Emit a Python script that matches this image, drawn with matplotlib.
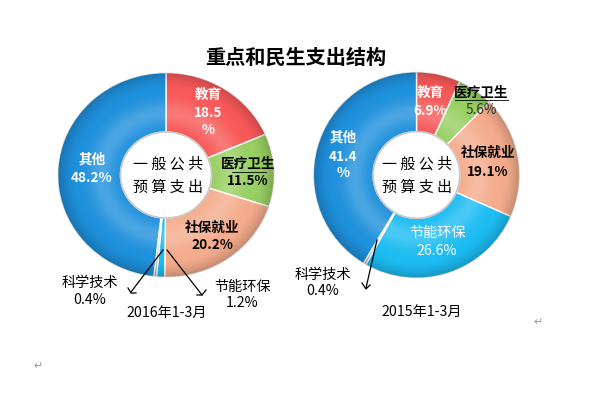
import numpy as np
import matplotlib
matplotlib.use("Agg")
import matplotlib.pyplot as plt
from matplotlib.patches import Wedge, Circle

plt.rcParams['font.family'] = ['Noto Sans CJK SC', 'DejaVu Sans']

# ---- data ----
categories = ["教育", "医疗卫生", "社保就业", "节能环保", "科学技术", "其他"]
values_2016 = [18.5, 11.5, 20.2, 1.2, 0.4, 48.2]
values_2015 = [6.9, 5.6, 19.1, 26.6, 0.4, 41.4]
period_2016 = "2016年1-3月"
period_2015 = "2015年1-3月"
title = "重点和民生支出结构"
center_lines = ["一 般 公 共", "预 算 支 出"]

colors = ["#F85858", "#98CF62", "#F5AC8C", "#1CBCF2", "#A8A8A8", "#1E90DC"]

W, H = 600, 399
fig = plt.figure(figsize=(W / 100, H / 100), dpi=100)
fig.patch.set_facecolor("white")


def fx(x):
    return x / W


def fy(y):
    return 1 - y / H


def make_axes(cx, cy, size=260):
    return fig.add_axes([fx(cx - size / 2), fy(cy + size / 2), size / W, size / H])


def donut(ax, values, xl, yl):
    ax.set_xlim(-xl, xl)
    ax.set_ylim(-yl, yl)
    ax.set_aspect("auto")
    ax.axis("off")
    wedges, _ = ax.pie(values, colors=colors, startangle=90, counterclock=False,
                       radius=1.0, wedgeprops=dict(width=0.58, edgecolor="white", linewidth=1.0))
    # bevel shading overlay
    n = 400
    xs = np.linspace(-1, 1, n)
    X, Y = np.meshgrid(xs, xs)
    R = np.sqrt(X ** 2 + Y ** 2)
    img = np.zeros((n, n, 4))
    dark = 0.2 * np.clip((R - 0.84) / 0.16, 0, 1) ** 1.5
    light = 0.2 * np.exp(-((R - 0.6) / 0.12) ** 2)
    alpha = dark + light
    rgb = np.where(dark[..., None] > light[..., None], 0.0, 1.0)
    img[..., :3] = rgb
    img[..., 3] = np.clip(alpha, 0, 1)
    ring = Wedge((0, 0), 1.0, 0, 360, width=0.58, transform=ax.transData)
    im = ax.imshow(img, extent=(-1, 1, -1, 1), origin="lower", zorder=3, interpolation="bilinear")
    im.set_clip_path(ring)
    ax.set_xlim(-xl, xl)
    ax.set_ylim(-yl, yl)
    ax.set_aspect("auto")
    # inner hole rim shadow
    ax.add_patch(Circle((0, 0), 0.42, facecolor="none", edgecolor="#C8C8C8", linewidth=1.2, zorder=4))
    return wedges


axL = make_axes(166, 175)
donut(axL, values_2016, 1.2, 1.27)
axR = make_axes(416.5, 175)
donut(axR, values_2015, 1.26, 1.26)


def t(x, y, s, color="black", weight="normal", size=9.8, **kw):
    fig.text(fx(x), fy(y), s, color=color, fontweight=weight, fontsize=size,
             ha="center", va="center", **kw)


# title
t(296, 57, title, weight="bold", size=14.5)

# center text
for cx in (168, 417):
    t(cx, 164, center_lines[0], size=10.8)
    t(cx, 188, center_lines[1], size=10.8)

# ---- left chart labels ----
t(208, 95, categories[0], color="white", weight="bold")
t(208, 113, f"{values_2016[0]}", color="white", weight="bold")
t(208, 130, "%", color="white", weight="bold")
t(248, 164, categories[1], weight="bold")
t(248, 181, f"{values_2016[1]}%", weight="bold")
t(212, 228, categories[2], weight="bold")
t(212, 245, f"{values_2016[2]}%", weight="bold")
t(92, 160, categories[5], color="white", weight="bold")
t(92, 178, f"{values_2016[5]}%", color="white", weight="bold")
t(90, 283, categories[4], size=10.2)
t(90, 300, f"{values_2016[4]}%", size=10.2)
t(242, 287, categories[3], size=10.2)
t(242, 303, f"{values_2016[3]}%", size=10.2)
t(167, 313, period_2016, size=10.2)

fig.add_artist(plt.Line2D([fx(163), fx(131)], [fy(250), fy(292)], color="black", lw=0.9))
fig.add_artist(plt.Line2D([fx(167), fx(202)], [fy(250), fy(295)], color="black", lw=0.9))
fig.add_artist(plt.Line2D([fx(128), fx(131), fx(136)], [fy(288), fy(293), fy(293)], color="black", lw=0.9))
fig.add_artist(plt.Line2D([fx(197), fx(202), fx(206)], [fy(295), fy(295), fy(290)], color="black", lw=0.9))
fig.add_artist(plt.Line2D([fx(232), fx(266)], [fy(172), fy(172)], color="black", lw=0.6))

# ---- right chart labels ----
t(430, 93, categories[0], color="white", weight="bold")
t(430, 111, f"{values_2015[0]}%", color="white", weight="bold")
t(481, 93, categories[1], weight="bold")
t(481, 110, f"{values_2015[1]}%", color="#333333")
t(488, 153, categories[2], weight="bold")
t(488, 172, f"{values_2015[2]}%", weight="bold")
t(437, 233, categories[3], color="white", size=10.2)
t(437, 251, f"{values_2015[3]}%", color="white", size=10.2)
t(343, 138, categories[5], color="white", weight="bold")
t(343, 157, f"{values_2015[5]}", color="white", weight="bold")
t(343, 173, "%", color="white", weight="bold")
t(323, 275, categories[4], size=10.2)
t(323, 291, f"{values_2015[4]}%", size=10.2)
t(422, 312, period_2015, size=10.2)

fig.add_artist(plt.Line2D([fx(377), fx(366)], [fy(240), fy(288)], color="black", lw=0.9))
fig.add_artist(plt.Line2D([fx(362), fx(366), fx(370)], [fy(283), fy(289), fy(285)], color="black", lw=0.9))
fig.add_artist(plt.Line2D([fx(455), fx(508)], [fy(100), fy(100)], color="black", lw=0.6))

# paragraph marks
t(38, 366, "↵", color="#999999", size=8)
t(538, 322, "↵", color="#999999", size=8)

fig.savefig("out.png", dpi=100, facecolor="white")
